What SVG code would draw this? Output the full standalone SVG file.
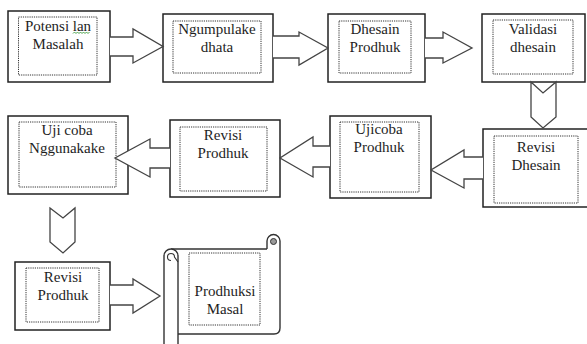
<svg xmlns="http://www.w3.org/2000/svg" width="587" height="344" viewBox="0 0 587 344">
<style>
.box{fill:#fff;stroke:#222;stroke-width:1.5}
.inner{fill:none;stroke:#333;stroke-width:1;stroke-dasharray:1.2,1}
.t{font-family:'Liberation Serif','Times New Roman',serif;font-size:15px;fill:#1e1e1e;text-anchor:middle}
.arr{fill:#fff;stroke:#444;stroke-width:1.3;stroke-linejoin:miter}
.scr{fill:#fff;stroke:#333;stroke-width:1.4}
</style>
<rect width="587" height="344" fill="#fff"/>
<g id="n1">
<rect class="box" x="8" y="11" width="102" height="71"/>
<rect class="inner" x="18.5" y="17" width="78.5" height="58"/>
<text class="t" x="58" y="31">Potensi lan</text>
<text class="t" x="58" y="49">Masalah</text>
<path d="M73,33.5 l1.5,-1.5 l1.5,1.5 l1.5,-1.5 l1.5,1.5 l1.5,-1.5 l1.5,1.5 l1.5,-1.5 l1.5,1.5 l1.5,-1.5 l1.5,1.5 l1.5,-1.5" fill="none" stroke="#3a9a3a" stroke-width="0.9"/>
</g>
<g id="n2">
<rect class="box" x="163" y="14" width="110" height="68"/>
<rect class="inner" x="173" y="21" width="88" height="52"/>
<text class="t" x="217" y="34">Ngumpulake</text>
<text class="t" x="217" y="52">dhata</text>
</g>
<g id="n3">
<rect class="box" x="328" y="14" width="97" height="68"/>
<rect class="inner" x="339" y="21" width="72" height="52"/>
<text class="t" x="375" y="34">Dhesain</text>
<text class="t" x="375" y="52">Prodhuk</text>
</g>
<g id="n4">
<rect class="box" x="482" y="14" width="103" height="68"/>
<rect class="inner" x="493" y="20" width="80" height="54"/>
<text class="t" x="533" y="34">Validasi</text>
<text class="t" x="533" y="52">dhesain</text>
</g>
<g id="n5">
<rect class="box" x="483" y="129" width="110" height="78"/>
<rect class="inner" x="494" y="136" width="84" height="67"/>
<text class="t" x="536" y="152">Revisi</text>
<text class="t" x="536" y="170">Dhesain</text>
</g>
<g id="n6">
<rect class="box" x="330" y="116" width="101" height="82"/>
<rect class="inner" x="340" y="122" width="79" height="70"/>
<text class="t" x="379" y="134">Ujicoba</text>
<text class="t" x="379" y="152">Prodhuk</text>
</g>
<g id="n7">
<rect class="box" x="170" y="120" width="110" height="77"/>
<rect class="inner" x="180" y="127" width="87" height="64"/>
<text class="t" x="223" y="140">Revisi</text>
<text class="t" x="223" y="158">Prodhuk</text>
</g>
<g id="n8">
<rect class="box" x="8" y="116" width="120" height="78"/>
<rect class="inner" x="19" y="122" width="97" height="65"/>
<text class="t" x="67" y="135">Uji coba</text>
<text class="t" x="67" y="153">Nggunakake</text>
</g>
<g id="n9">
<rect class="box" x="15" y="262" width="95" height="68"/>
<rect class="inner" x="26" y="268" width="73" height="54"/>
<text class="t" x="63" y="282">Revisi</text>
<text class="t" x="63" y="300">Prodhuk</text>
</g>
<g id="n10">
<rect x="178" y="249" width="102" height="85" fill="#fff"/>
<path class="scr" d="M171,249 H267 M267,249 V241 A6.5,6.5 0 0 1 280,241 V328 Q280,334 274,334 H178" fill="none"/>
<path class="scr" d="M164,346 V256 A7,7 0 0 1 178,256 V346"/>
<path d="M171,260.5 A3.5,3.5 0 1 1 174.5,257 L178,262" fill="none" stroke="#333" stroke-width="1.1"/>
<circle cx="273.5" cy="241.5" r="3" fill="#9a9a9a" stroke="#333" stroke-width="1"/>
<rect class="inner" x="189" y="253" width="71" height="72"/>
<text class="t" x="225" y="296">Prodhuksi</text>
<text class="t" x="225" y="314">Masal</text>
</g>
<g id="connectors">
<path class="arr" d="M110,37 H133 V29 L163,46.5 L133,63 V56 H110"/>
<path class="arr" d="M273,36 H299 V32 L328,48 L299,65 V58 H273"/>
<path class="arr" d="M425,38 H443 V32 L472,48 L443,63 V58 H425"/>
<path class="arr" d="M531,82 L543,93 L556,82 V117 L543,128 L531,117 Z"/>
<path class="arr" d="M483,157 H464 V150 L431,170 L464,188 V179 H483"/>
<path class="arr" d="M330,146 H313 V137 L280,158 L313,177 V167 H330"/>
<path class="arr" d="M170,148 H150 V139 L115,158 L150,177 V168 H170"/>
<path class="arr" d="M50,208 L63,218 L75,208 V242 L63,253 L50,242 Z"/>
<path class="arr" d="M110,285 H133 V279 L160,296 L133,313 V305 H110"/>
</g>
</svg>
